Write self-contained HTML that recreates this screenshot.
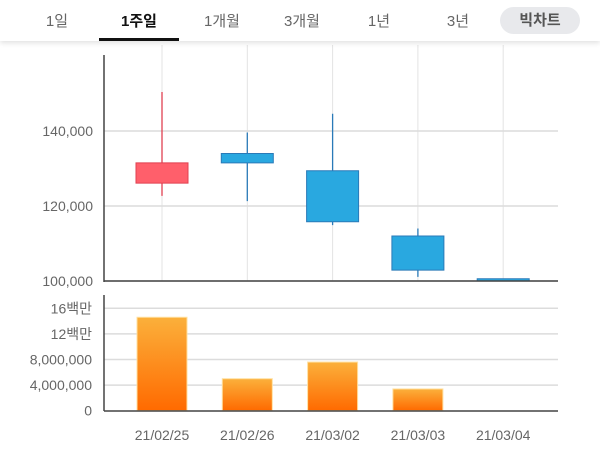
<!DOCTYPE html>
<html><head><meta charset="utf-8"><style>
body{margin:0;width:600px;height:475px;background:#fff;font-family:"Liberation Sans","Noto Sans CJK KR",sans-serif;overflow:hidden;position:relative}
.tabs{position:absolute;left:0;top:0;width:600px;height:41px;background:#fff;box-shadow:0 2px 5px rgba(0,0,0,0.12);z-index:2}
.tab{position:absolute;top:10px;font-size:15px;color:#666;transform:translateX(-50%)}
.tab.on{color:#111;font-weight:bold}
.ul{position:absolute;left:99px;top:38px;width:80px;height:3px;background:#111}
.pill{position:absolute;left:500px;top:7px;width:80px;height:27px;border-radius:14px;background:#e8e9ec;color:#555;font-weight:bold;font-size:15px;text-align:center;line-height:27px}
svg{position:absolute;left:0;top:0}
</style></head><body>
<div class="tabs">
<span class="tab" style="left:57px">1일</span>
<span class="tab on" style="left:139px">1주일</span>
<span class="tab" style="left:222px">1개월</span>
<span class="tab" style="left:302px">3개월</span>
<span class="tab" style="left:379px">1년</span>
<span class="tab" style="left:458px">3년</span>
<div class="ul"></div>
<div class="pill">빅차트</div>
</div>
<svg id="c" width="600" height="475">
<defs><linearGradient id="g" x1="0" y1="0" x2="0" y2="1"><stop offset="0" stop-color="#fbb03b"/><stop offset="1" stop-color="#ff6a00"/></linearGradient></defs>
</svg>
<script>
const dates=["21/02/25","21/02/26","21/03/02","21/03/03","21/03/04"];
const opens=[126100,134000,129400,112000,100600];
const closes=[131500,131500,115800,102900,100000];
const highs=[150400,139600,144600,114000,100600];
const lows=[122700,121300,114900,101100,100000];
const volumes=[14.6e6,5.0e6,7.6e6,3.4e6,0];
const priceTicks=[100000,120000,140000];
const priceTickLabels=["100,000","120,000","140,000"];
const volTicks=[0,4e6,8e6,12e6,16e6];
const volTickLabels=["0","4,000,000","8,000,000","12백만","16백만"];
const svg=document.getElementById('c');
const NS='http://www.w3.org/2000/svg';
function mk(t,a,p){const e=document.createElementNS(NS,t);for(const k in a)e.setAttribute(k,a[k]);(p||svg).appendChild(e);return e;}
const xC=i=>162+i*85.3;
const yP=v=>281-(v-100000)/20000*75;
const yV=v=>410.7-v/1e6*6.4;
dates.forEach((d,i)=>{const l=mk('line',{x1:xC(i),x2:xC(i),y1:45,y2:281,stroke:'#e3e3e3'});

});
priceTicks.forEach((v,i)=>{const l=mk('line',{x1:104,x2:558,y1:yP(v),y2:yP(v),stroke:'#dcdcdc','stroke-width':1.5});


const t=mk('text',{x:93,y:yP(v)+5,'text-anchor':'end','font-size':14,fill:'#666'});t.textContent=priceTickLabels[i];

});
volTicks.forEach((v,i)=>{if(i>0){const l=mk('line',{x1:104,x2:558,y1:yV(v),y2:yV(v),stroke:'#dcdcdc','stroke-width':1.5});

}
const t=mk('text',{x:92,y:yV(v)+5,'text-anchor':'end','font-size':14,fill:'#666'});t.textContent=volTickLabels[i];

});
dates.forEach((d,i)=>{const up=closes[i]>=opens[i];const col=up?'#ff5f6b':'#29a8e0';const sc=up?'#e04050':'#2a7ab8';
const w=mk('line',{x1:xC(i),x2:xC(i),y1:yP(highs[i]),y2:yP(lows[i]),stroke:sc,'stroke-width':1.3});


const top=yP(Math.max(opens[i],closes[i])),bot=yP(Math.min(opens[i],closes[i]));
const r=mk('rect',{x:xC(i)-26,y:top,width:52,height:Math.max(bot-top,1.5),fill:col,stroke:sc,'stroke-width':1});


if(volumes[i]>0){const b=mk('rect',{x:xC(i)-25,y:yV(volumes[i]),width:50,height:yV(0)-yV(volumes[i]),fill:'url(#g)',stroke:'#ffe0a0','stroke-width':1});

}
const t=mk('text',{x:xC(i),y:440,'text-anchor':'middle','font-size':14,fill:'#666'});t.textContent=d;

});
[[104,55,104,282],[104,281,558,281],[104,295,104,411],[104,411,558,411]].forEach((a,i)=>{const l=mk('line',{x1:a[0],y1:a[1],x2:a[2],y2:a[3],stroke:'#444','stroke-width':1.5});

});
</script>
</body></html>
